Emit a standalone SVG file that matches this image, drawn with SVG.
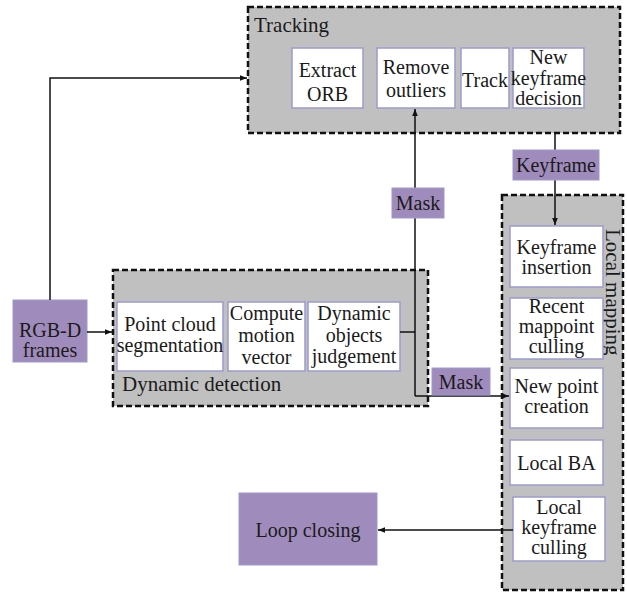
<svg xmlns="http://www.w3.org/2000/svg" width="627" height="593" viewBox="0 0 627 593">
<style>
text{font-family:'Liberation Serif',serif !important;font-size:20px;fill:#1a1a1a;text-anchor:middle}
.grp{fill:#c0c0c0;stroke:#111;stroke-width:2.5;stroke-dasharray:6 3}
.box{fill:#fff;stroke:#9a9ad0;stroke-width:1.5}
.pur{fill:#a08cbc;stroke:#9a9ad0;stroke-width:1}
.lbl{text-anchor:start;font-size:21px}
.con{fill:none;stroke:#111;stroke-width:1.5}
</style>
<defs>
<marker id="ah" viewBox="0 0 10 10" refX="10" refY="5" markerWidth="7" markerHeight="7" orient="auto" markerUnits="userSpaceOnUse">
<path d="M0,1 L10,5 L0,9 z" fill="#111"/>
</marker>
</defs>
<g id="tracking">
<rect class="grp" x="248" y="7" width="372" height="126"/>
<text style="font-family:'Liberation Serif'" class="lbl" x="254" y="32">Tracking</text>
</g>
<g id="extract-orb"><rect class="box" x="292" y="48" width="71" height="60"/><text style="font-family:'Liberation Serif'" x="327.5" y="77">Extract</text><text style="font-family:'Liberation Serif'" x="327.5" y="101">ORB</text></g>
<g id="remove-outliers"><rect class="box" x="377" y="48" width="78" height="60"/><text style="font-family:'Liberation Serif'" x="416" y="74">Remove</text><text style="font-family:'Liberation Serif'" x="416" y="97">outliers</text></g>
<g id="track"><rect class="box" x="461" y="48" width="48" height="60"/><text style="font-family:'Liberation Serif'" x="485" y="87">Track</text></g>
<g id="new-keyframe-decision"><rect class="box" x="513" y="48" width="71" height="60"/><text style="font-family:'Liberation Serif'" x="548.5" y="64">New</text><text style="font-family:'Liberation Serif'" x="548.5" y="85">keyframe</text><text style="font-family:'Liberation Serif'" x="548.5" y="105">decision</text></g>
<g id="dynamic-detection">
<rect class="grp" x="113" y="270" width="315" height="136"/>
<text style="font-family:'Liberation Serif'" class="lbl" x="122" y="391">Dynamic detection</text>
</g>
<g id="point-cloud"><rect class="box" x="117" y="302" width="106" height="69"/><text style="font-family:'Liberation Serif'" x="170" y="331">Point cloud</text><text style="font-family:'Liberation Serif'" x="170" y="352">segmentation</text></g>
<g id="compute-motion"><rect class="box" x="228" y="302" width="77" height="69"/><text style="font-family:'Liberation Serif'" x="266.5" y="320">Compute</text><text style="font-family:'Liberation Serif'" x="266.5" y="342">motion</text><text style="font-family:'Liberation Serif'" x="266.5" y="364">vector</text></g>
<g id="dynamic-objects"><rect class="box" x="308" y="302" width="92" height="69"/><text style="font-family:'Liberation Serif'" x="354" y="320">Dynamic</text><text style="font-family:'Liberation Serif'" x="354" y="342">objects</text><text style="font-family:'Liberation Serif'" x="354" y="363">judgement</text></g>
<g id="local-mapping">
<rect class="grp" x="502" y="195" width="121" height="395"/>
<text style="font-family:'Liberation Serif'" class="lbl" transform="translate(606,229) rotate(90)" x="0" y="0">Local mapping</text>
</g>
<g id="keyframe-insertion"><rect class="box" x="510" y="226" width="93" height="61"/><text style="font-family:'Liberation Serif'" x="556.5" y="254">Keyframe</text><text style="font-family:'Liberation Serif'" x="556.5" y="274">insertion</text></g>
<g id="recent-mappoint"><rect class="box" x="510" y="298" width="93" height="61"/><text style="font-family:'Liberation Serif'" x="556.5" y="313">Recent</text><text style="font-family:'Liberation Serif'" x="556.5" y="333">mappoint</text><text style="font-family:'Liberation Serif'" x="556.5" y="353">culling</text></g>
<g id="new-point"><rect class="box" x="510" y="368" width="93" height="60"/><text style="font-family:'Liberation Serif'" x="556.5" y="393">New point</text><text style="font-family:'Liberation Serif'" x="556.5" y="413">creation</text></g>
<g id="local-ba"><rect class="box" x="510" y="440" width="93" height="45"/><text style="font-family:'Liberation Serif'" x="556.5" y="470">Local BA</text></g>
<g id="local-keyframe-culling"><rect class="box" x="513" y="497" width="92" height="64"/><text style="font-family:'Liberation Serif'" x="559" y="514">Local</text><text style="font-family:'Liberation Serif'" x="559" y="534">keyframe</text><text style="font-family:'Liberation Serif'" x="559" y="554">culling</text></g>
<g id="rgbd"><rect class="pur" x="13" y="300" width="74" height="62"/><text style="font-family:'Liberation Serif'" x="50" y="337">RGB-D</text><text style="font-family:'Liberation Serif'" x="50" y="357">frames</text></g>
<g id="loop-closing"><rect class="pur" x="239" y="493" width="138" height="72"/><text style="font-family:'Liberation Serif'" x="308" y="537">Loop closing</text></g>
<g id="connectors">
<path class="con" d="M50,300 V78 H247" marker-end="url(#ah)"/>
<path class="con" d="M87,332 H112" marker-end="url(#ah)"/>
<path class="con" d="M400,332 H415"/>
<path class="con" d="M415,396 V109" marker-end="url(#ah)"/>
<path class="con" d="M415,396 H509" marker-end="url(#ah)"/>
<path class="con" d="M555,133 V225" marker-end="url(#ah)"/>
<path class="con" d="M513,530 H378" marker-end="url(#ah)"/>
</g>
<g id="mask-1"><rect class="pur" x="392" y="188" width="52" height="30"/><text style="font-family:'Liberation Serif'" x="418" y="210">Mask</text></g>
<g id="keyframe-label"><rect class="pur" x="513" y="150" width="86" height="30"/><text style="font-family:'Liberation Serif'" x="556" y="172">Keyframe</text></g>
<g id="mask-2"><rect class="pur" x="432" y="368" width="58" height="27"/><text style="font-family:'Liberation Serif'" x="461" y="389">Mask</text></g>
</svg>
